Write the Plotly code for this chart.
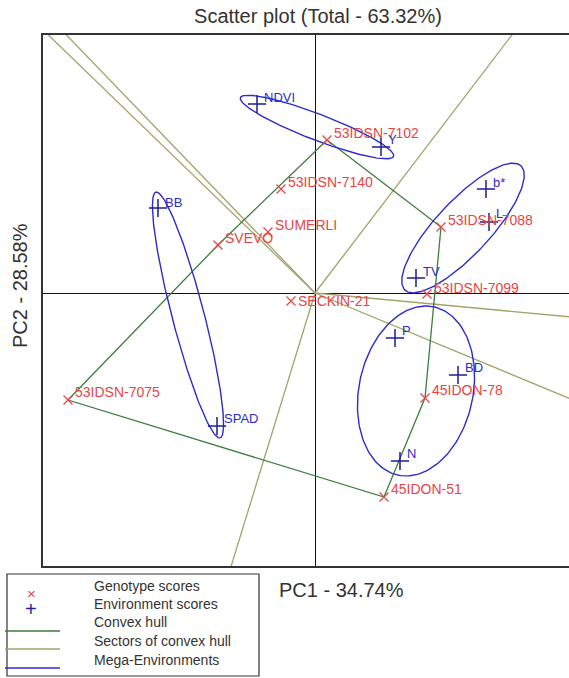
import numpy as np
import plotly.graph_objects as go

# ---------------- data ----------------
geno_names = ["53IDSN-7102", "53IDSN-7140", "SUMERLI", "SVEVO", "53IDSN-7088",
              "53IDSN-7099", "SECKIN-21", "45IDON-78", "45IDON-51", "53IDSN-7075"]
geno_pc1 = [0.12, -0.34, -0.47, -0.97, 1.26, 1.12, -0.24, 1.10, 0.69, -2.47]
geno_pc2 = [1.53, 1.04, 0.61, 0.48, 0.66, -0.01, -0.08, -1.05, -2.04, -1.07]

env_names = ["NDVI", "Y", "BB", "SPAD", "b*", "L", "TV", "P", "BD", "N"]
env_pc1 = [-0.58, 0.66, -1.57, -0.98, 1.71, 1.74, 1.01, 0.80, 1.43, 0.85]
env_pc2 = [1.89, 1.46, 0.85, -1.33, 1.04, 0.71, 0.15, -0.45, -0.82, -1.68]

# convex hull vertices (genotype names, in order)
hull_order = ["53IDSN-7102", "53IDSN-7088", "45IDON-78", "45IDON-51", "53IDSN-7075", "SVEVO"]

# mega-environment ellipses: centre pc1, centre pc2, semi-major, semi-minor, angle(deg)
ell_cx = [0.02, -1.27, 1.48, 1.01]
ell_cy = [1.66, -0.22, 0.65, -0.98]
ell_a = [0.82, 1.27, 0.85, 0.86]
ell_b = [0.13, 0.16, 0.27, 0.57]
ell_ang = [-21, 104.6, 47, 78]

title_text = "Scatter plot (Total - 63.32%)"
xlab = "PC1 - 34.74%"
ylab = "PC2 - 28.58%"
legend_labels = ["Genotype scores", "Environment scores", "Convex hull",
                 "Sectors of convex hull", "Mega-Environments"]

# ---------------- styling ----------------
W, H = 569, 678
L_M, R_M, T_M, B_M = 43, 0, 35, 112
XR = [-2.72, 2.54]
YR = [-2.73, 2.58]
RED = "#e5484a"
RED_T = "#e84545"
BLUE_M = "#1e1e96"
BLUE_T = "#2d2dc8"
GREEN = "#3d7d3d"
OLIVE = "#a3a36a"
ELL = "#2b2bd0"
GREY = "#333333"
FONT = "Arial, Liberation Sans, sans-serif"

geno_dy = [7, 7, 7, 7, 7, 6, 0, 8, 8, 8]
env_dy = [7, 8, 6, 8, 7, 9, 7, 8, 8, 8]

fig = go.Figure()

# sector lines: rays from origin perpendicular to each hull edge
gx = dict(zip(geno_names, geno_pc1))
gy = dict(zip(geno_names, geno_pc2))
pts = [(gx[n], gy[n]) for n in hull_order]
sx, sy = [], []
for i in range(len(pts)):
    a = np.array(pts[i]); b = np.array(pts[(i + 1) % len(pts)])
    d = b - a
    t = -np.dot(a, d) / np.dot(d, d)
    foot = a + t * d
    u = foot / np.linalg.norm(foot)
    end = u * 10
    sx += [0, end[0], None]; sy += [0, end[1], None]
fig.add_trace(go.Scatter(x=sx, y=sy, mode="lines", line=dict(color=OLIVE, width=1.3),
                         showlegend=False, hoverinfo="skip"))

# convex hull
hx = [p[0] for p in pts] + [pts[0][0]]
hy = [p[1] for p in pts] + [pts[0][1]]
fig.add_trace(go.Scatter(x=hx, y=hy, mode="lines", line=dict(color=GREEN, width=1.3),
                         showlegend=False, hoverinfo="skip"))

# ellipses
th = np.linspace(0, 2 * np.pi, 200)
for cx, cy, a, b, ang in zip(ell_cx, ell_cy, ell_a, ell_b, ell_ang):
    r = np.deg2rad(ang)
    ex = cx + a * np.cos(th) * np.cos(r) - b * np.sin(th) * np.sin(r)
    ey = cy + a * np.cos(th) * np.sin(r) + b * np.sin(th) * np.cos(r)
    fig.add_trace(go.Scatter(x=ex, y=ey, mode="lines", line=dict(color=ELL, width=1.4),
                             showlegend=False, hoverinfo="skip"))

# genotype points
fig.add_trace(go.Scatter(x=geno_pc1, y=geno_pc2, mode="markers",
                         marker=dict(symbol="x-thin", size=9, line=dict(color=RED, width=1.3)),
                         name="Genotype scores", showlegend=False))
# environment points
fig.add_trace(go.Scatter(x=env_pc1, y=env_pc2, mode="markers",
                         marker=dict(symbol="cross-thin", size=13, line=dict(color=BLUE_M, width=1.5)),
                         name="Environment scores", showlegend=False))

ann = []
for n, x, y, dy in zip(geno_names, geno_pc1, geno_pc2, geno_dy):
    ann.append(dict(x=x, y=y, xref="x", yref="y", text=n, showarrow=False,
                    xanchor="left", yanchor="middle", xshift=5, yshift=dy,
                    font=dict(family=FONT, size=14, color=RED_T)))
for n, x, y, dy in zip(env_names, env_pc1, env_pc2, env_dy):
    ann.append(dict(x=x, y=y, xref="x", yref="y", text=n, showarrow=False,
                    xanchor="left", yanchor="middle", xshift=5, yshift=dy,
                    font=dict(family=FONT, size=13, color=BLUE_T)))

PW = W - L_M - R_M
PH = H - T_M - B_M
def px(xp):
    return (xp - L_M) / PW
def py(yp):
    return (H - B_M - yp) / PH

# axis labels
ann.append(dict(x=px(341), y=py(590), xref="paper", yref="paper", text=xlab, showarrow=False,
                xanchor="center", yanchor="middle", font=dict(family=FONT, size=20, color=GREY)))
ann.append(dict(x=px(20), y=py(286), xref="paper", yref="paper", text=ylab, showarrow=False,
                textangle=-90, xanchor="center", yanchor="middle",
                font=dict(family=FONT, size=20, color=GREY)))

# manual legend
shapes = [dict(type="rect", xref="paper", yref="paper", x0=px(7), x1=px(259), y0=py(574), y1=py(676),
               line=dict(color=GREY, width=1.2), fillcolor="white", layer="above")]
rows = [586, 604, 622, 641, 660]
for lab, yy in zip(legend_labels, rows):
    ann.append(dict(x=px(92), y=py(yy), xref="paper", yref="paper", text=lab, showarrow=False,
                    xanchor="left", yanchor="middle", font=dict(family=FONT, size=14, color=GREY)))
ann.append(dict(x=px(31), y=py(593), xref="paper", yref="paper", text="×", showarrow=False,
                xanchor="center", yanchor="middle", height=11, font=dict(family=FONT, size=15, color=RED)))
ann.append(dict(x=px(31), y=py(609), xref="paper", yref="paper", text="+", showarrow=False,
                xanchor="center", yanchor="middle", height=12, font=dict(family=FONT, size=20, color=BLUE_M)))
for col, yy in zip([GREEN, OLIVE, ELL], [631, 649, 668]):
    shapes.append(dict(type="line", xref="paper", yref="paper", x0=px(5), x1=px(60),
                       y0=py(yy), y1=py(yy), line=dict(color=col, width=1.3)))

fig.update_layout(
    width=W, height=H,
    margin=dict(l=L_M, r=R_M, t=T_M, b=B_M),
    paper_bgcolor="white", plot_bgcolor="white",
    title=dict(text=title_text, x=px(318), xref="paper", xanchor="center",
               y=1 - 16 / H, yanchor="middle", font=dict(family=FONT, size=20, color=GREY)),
    xaxis=dict(range=XR, showgrid=False, zeroline=True, zerolinecolor="#111111", zerolinewidth=1,
               showticklabels=False, ticks="", showline=True, mirror=True, linecolor=GREY, linewidth=1.5),
    yaxis=dict(range=YR, showgrid=False, zeroline=True, zerolinecolor="#111111", zerolinewidth=1,
               showticklabels=False, ticks="", showline=True, mirror=False, linecolor=GREY, linewidth=1.5),
    annotations=ann, shapes=shapes, showlegend=False,
)

fig.write_html("out.html", config={"displayModeBar": False},
               post_script="document.body.style.margin='0';document.body.style.overflow='hidden';")
